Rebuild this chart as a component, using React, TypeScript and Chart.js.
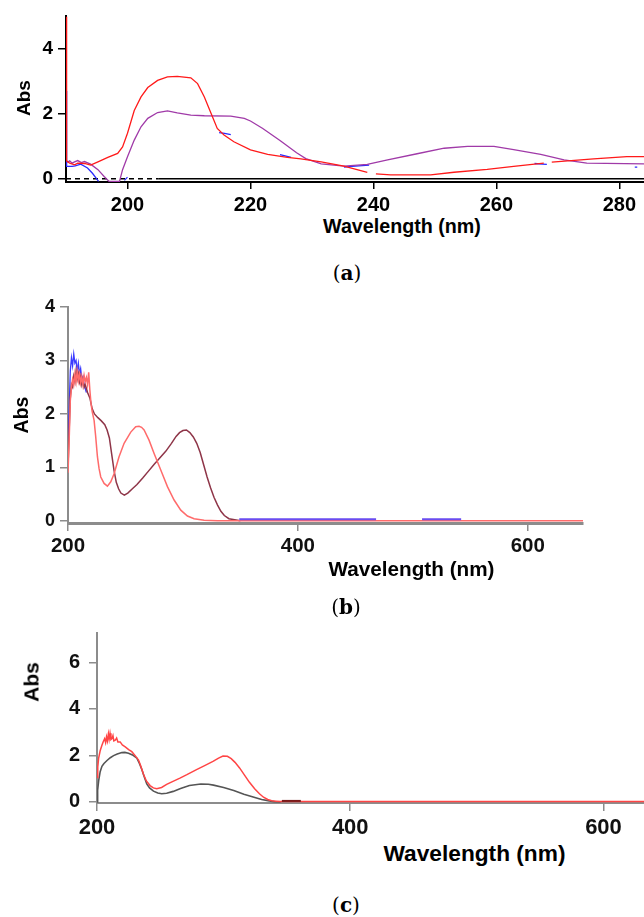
import React, { useEffect, useRef } from "react";
import { Chart, registerables } from "chart.js";

Chart.register(...registerables);

const SANS = "'Liberation Sans', Arial, Helvetica, sans-serif";
const SERIF = "'DejaVu Serif', 'Liberation Serif', serif";

type Pair = [number, number | null];

// ---------------- Panel (a): 190-284 nm ----------------
const aXTicks = [200, 220, 240, 260, 280];
const aYTicks = [0, 2, 4];

const aRed: Pair[] = [
  [190.0, 5.0], [190.1, 0.55], [190.6, 0.48], [191.4, 0.43], [191.9, 0.48], [193.0, 0.47],
  [194.0, 0.42], [195.2, 0.52], [196.8, 0.66], [198.4, 0.78], [199.2, 0.98], [200.0, 1.4],
  [201.1, 2.1], [202.2, 2.52], [203.3, 2.81], [204.9, 3.03], [206.5, 3.14], [208.1, 3.15],
  [210.3, 3.11], [211.4, 2.93], [212.5, 2.52], [213.6, 2.01], [214.6, 1.55], [215.7, 1.35],
  [217.3, 1.14], [220.0, 0.89], [222.8, 0.75], [226.0, 0.66], [228.2, 0.61], [231.5, 0.52],
  [235.2, 0.39], [239.0, 0.2], [239.7, null], [240.4, 0.15], [242.8, 0.12], [249.3, 0.12],
  [253.1, 0.2], [258.5, 0.29], [262.8, 0.38], [267.7, 0.48], [268.3, null], [269.0, 0.51],
  [275.8, 0.61], [281.2, 0.68], [284.0, 0.68],
];

const aPurple: Pair[] = [
  [190.2, 0.5], [190.6, 0.55], [191.0, 0.48], [191.4, 0.52], [191.9, 0.56], [192.5, 0.5],
  [193.0, 0.53], [194.0, 0.45], [195.2, 0.28], [196.2, 0.07], [197.0, -0.08], [198.7, -0.08],
  [199.2, 0.28], [200.0, 0.68], [201.1, 1.19], [202.2, 1.6], [203.3, 1.86], [204.9, 2.04],
  [206.5, 2.09], [208.1, 2.03], [210.3, 1.96], [212.5, 1.94], [216.8, 1.93], [219.0, 1.86],
  [220.0, 1.78], [222.0, 1.55], [224.8, 1.18], [227.5, 0.8], [229.0, 0.62], [231.5, 0.46],
  [235.2, 0.39], [239.0, 0.44], [242.3, 0.58], [247.1, 0.77], [251.5, 0.94], [255.3, 1.0],
  [259.6, 1.0], [262.8, 0.9], [267.2, 0.75], [271.0, 0.58], [274.7, 0.48], [284.0, 0.46],
];

const aBlue: Pair[] = [
  [190.0, 2.7], [190.1, 0.38], [191.0, 0.38], [191.5, 0.4], [192.4, 0.45], [193.5, 0.33],
  [194.3, 0.17], [194.9, 0.02], [195.3, -0.08], [197.0, null], [199.5, -0.05], [200.0, 0.05],
  [207.0, null], [214.9, 1.42], [215.8, 1.4], [216.8, 1.36], [220.0, null], [224.8, 0.74],
  [225.8, 0.7], [226.6, 0.66], [230.0, null], [235.2, 0.36], [236.5, 0.38], [239.3, 0.42],
  [250.0, null], [266.2, 0.47], [267.5, 0.45], [268.2, 0.44], [275.0, null], [282.5, 0.36],
  [282.9, 0.36],
];

const aBlack: Pair[] = [[190.0, 0], [205.0, 0], [284.0, 0]];

// ---------------- Panel (b): 200-648 nm ----------------
const bXTicks = [200, 400, 600];
const bYTicks = [0, 1, 2, 3, 4];

const bDark: Pair[] = [
  [200, 1.0], [201, 1.7], [202, 2.3], [203, 2.55], [204, 2.5], [205, 2.7], [206, 2.6],
  [207, 2.8], [208, 2.65], [209, 2.75], [210, 2.6], [211, 2.7], [212, 2.55], [213, 2.65],
  [214, 2.5], [215, 2.55], [217, 2.4], [219, 2.3], [221, 2.1], [223, 2.0], [226, 1.93],
  [229, 1.87], [232, 1.8], [234, 1.7], [236, 1.55], [238, 1.25], [240, 0.95], [242, 0.72],
  [244, 0.6], [246, 0.52], [249, 0.48], [252, 0.52], [256, 0.6], [260, 0.68], [265, 0.8],
  [270, 0.93], [275, 1.06], [280, 1.18], [285, 1.3], [290, 1.45], [294, 1.58], [297, 1.65],
  [300, 1.69], [303, 1.7], [306, 1.65], [309, 1.57], [312, 1.45], [315, 1.28], [318, 1.05],
  [321, 0.82], [324, 0.62], [327, 0.44], [330, 0.3], [333, 0.18], [336, 0.1], [340, 0.04],
  [345, 0.02], [350, 0.0],
];

const bRed: Pair[] = [
  [200, 0.9], [201, 1.5], [202, 2.25], [203, 2.5], [204, 2.65], [205, 2.55], [206, 2.75],
  [207, 2.6], [208, 2.8], [209, 2.62], [210, 2.75], [211, 2.58], [212, 2.7], [213, 2.55],
  [214, 2.72], [215, 2.6], [216, 2.68], [217, 2.55], [218, 2.78], [219, 2.45], [220, 2.2],
  [221, 2.05], [222.7, 1.88], [224, 1.6], [225.6, 1.2], [227, 0.98], [228.5, 0.82],
  [231.4, 0.7], [234.3, 0.65], [237.2, 0.73], [240.1, 0.88], [244.4, 1.2], [248.8, 1.45],
  [254.6, 1.66], [258.9, 1.76], [261.8, 1.77], [264, 1.75], [266.2, 1.7], [270.5, 1.51],
  [274.9, 1.26], [280.7, 0.95], [286.5, 0.64], [292.3, 0.39], [298.1, 0.2], [303.9, 0.09],
  [309.7, 0.04], [318.4, 0.01], [330, 0.0], [648, 0.0],
];

const bBluePeak: Pair[] = [
  [200, 1.3], [201, 2.1], [202, 2.8], [203, 3.05], [204, 2.9], [205, 3.12], [206, 2.95],
  [207, 3.0], [208, 2.8], [209, 2.95], [210, 2.75], [211, 2.85], [212, 2.65], [213, 2.7],
  [214, 2.55], [216, 2.4],
];

const bBlueBase: Pair[] = [
  [349, 0.03], [468, 0.03], [488, null], [508, 0.03], [542, 0.03],
];

// ---------------- Panel (c): 200-632 nm ----------------
const cXTicks = [200, 400, 600];
const cYTicks = [0, 2, 4, 6];

const cRed: Pair[] = [
  [200, 1.05], [200.6, 1.5], [201.3, 1.88], [202.5, 2.2], [203.9, 2.44], [205, 2.6],
  [206, 2.72], [206.8, 2.55], [207.5, 2.8], [208.2, 2.62], [209, 2.93], [209.6, 2.7],
  [210.3, 2.95], [211, 2.68], [211.8, 2.72], [212.6, 2.85], [213.3, 2.62], [214.4, 2.65],
  [215.5, 2.75], [216.5, 2.58], [218.3, 2.58], [220, 2.45], [222.3, 2.37], [225, 2.25],
  [227.5, 2.16], [230, 2.0], [232.8, 1.8], [234.5, 1.55], [236.7, 1.19], [239, 0.9],
  [241.9, 0.7], [244.5, 0.6], [247.2, 0.56], [251, 0.62], [255, 0.75], [260, 0.88],
  [265.5, 1.02], [271, 1.17], [278.6, 1.39], [285, 1.56], [291.6, 1.74], [296, 1.88],
  [299.5, 1.97], [303, 1.96], [306, 1.86], [309, 1.7], [312.6, 1.46], [316.5, 1.15],
  [320.4, 0.84], [324.5, 0.56], [328.3, 0.35], [331.5, 0.2], [334.8, 0.1], [338, 0.05],
  [341.4, 0.03], [345, 0.01], [632, 0.01],
];

const cGrey: Pair[] = [
  [200, 0.0], [200.5, 0.5], [201.3, 0.9], [202.5, 1.3], [203.9, 1.53], [205.5, 1.65],
  [207.9, 1.78], [210.5, 1.9], [213.1, 1.99], [216, 2.06], [219.6, 2.12], [222, 2.13],
  [224.9, 2.09], [228, 2.02], [231.5, 1.88], [233.5, 1.65], [235.4, 1.39], [237.5, 1.05],
  [239.3, 0.77], [241.5, 0.6], [244.6, 0.46], [248, 0.38], [251.1, 0.35], [255, 0.37],
  [260.2, 0.45], [266, 0.57], [273, 0.7], [282, 0.77], [288, 0.76], [292, 0.72], [300, 0.62],
  [308, 0.49], [316, 0.33], [324, 0.2], [330, 0.1], [336, 0.04], [340, 0.01], [345, 0.0],
];

const cDarkBase: Pair[] = [[346, 0.04], [361, 0.04]];

// ---------------- helpers ----------------
function series(pairs: Pair[], color: string, width: number, order: number, extra: any = {}) {
  return {
    data: pairs.map(([x, y]) => ({ x, y })),
    borderColor: color,
    backgroundColor: color,
    borderWidth: width,
    pointRadius: 0,
    fill: false,
    tension: 0,
    spanGaps: false,
    order,
    ...extra,
  };
}

function makeConfig(p: any): any {
  return {
    type: "line",
    data: { datasets: p.datasets },
    options: {
      animation: false,
      responsive: false,
      devicePixelRatio: 1,
      events: [],
      plugins: { legend: { display: false }, tooltip: { enabled: false }, title: { display: false } },
      layout: { padding: { top: p.padTop, right: p.padRight, left: 0, bottom: 0 } },
      scales: {
        x: {
          type: "linear",
          min: p.xMin,
          max: p.xMax,
          afterBuildTicks: (s: any) => {
            s.ticks = p.xTicks.map((v: number) => ({ value: v }));
          },
          afterFit: (s: any) => {
            s.height = p.xHeight;
          },
          grid: {
            drawOnChartArea: false,
            drawTicks: true,
            tickLength: p.xTickLen,
            color: p.axisColor,
            lineWidth: 1.5,
          },
          border: { display: true, color: p.axisColor, width: p.xBorder },
          ticks: {
            autoSkip: false,
            maxRotation: 0,
            minRotation: 0,
            padding: p.xPad,
            color: p.labelColor,
            font: { family: SANS, size: p.xFont, weight: "bold" },
          },
        },
        y: {
          type: "linear",
          min: p.yMin,
          max: p.yMax,
          afterBuildTicks: (s: any) => {
            s.ticks = p.yTicks.map((v: number) => ({ value: v }));
          },
          afterFit: (s: any) => {
            s.width = p.yWidth;
          },
          grid: {
            drawOnChartArea: false,
            drawTicks: true,
            tickLength: p.yTickLen,
            color: p.axisColor,
            lineWidth: 1.5,
          },
          border: { display: true, color: p.axisColor, width: p.yBorder },
          ticks: {
            padding: p.yPad,
            color: p.labelColor,
            font: { family: SANS, size: p.yFont, weight: "bold" },
          },
        },
      },
    },
  };
}

function ChartCanvas({ top, width, height, config }: any) {
  const ref = useRef<HTMLCanvasElement>(null);
  useEffect(() => {
    const chart = new Chart(ref.current as HTMLCanvasElement, config);
    return () => chart.destroy();
  }, []);
  return (
    <canvas
      ref={ref}
      width={width}
      height={height}
      style={{ position: "absolute", left: 0, top, width, height, display: "block" }}
    />
  );
}

function Label({ x, y, size, rotate, children }: any) {
  return (
    <div
      style={{
        position: "absolute",
        left: x,
        top: y,
        transform: `translate(-50%, -50%)${rotate ? " rotate(-90deg)" : ""}`,
        fontFamily: SANS,
        fontWeight: 700,
        fontSize: size,
        lineHeight: 1,
        whiteSpace: "nowrap",
        color: "#000",
      }}
    >
      {children}
    </div>
  );
}

function Caption({ x, y, letter }: any) {
  return (
    <div
      style={{
        position: "absolute",
        left: x,
        top: y,
        transform: "translate(-50%, -50%)",
        fontFamily: SERIF,
        fontSize: 20,
        lineHeight: 1,
        whiteSpace: "nowrap",
        color: "#000",
      }}
    >
      (<b>{letter}</b>)
    </div>
  );
}

const configA = makeConfig({
  datasets: [
    series(aBlack, "#000000", 1.5, 4, {
      segment: { borderDash: (ctx: any) => (ctx.p0.parsed.x < 204 ? [5, 4] : undefined) },
    }),
    series(aBlue, "#2a2aff", 1.3, 3),
    series(aPurple, "#a03aa8", 1.3, 2),
    series(aRed, "#ff1a1a", 1.3, 1),
  ],
  xMin: 190, xMax: 284, yMin: -0.1, yMax: 5,
  xTicks: aXTicks, yTicks: aYTicks,
  yWidth: 66, xHeight: 33, padTop: 16, padRight: 0,
  axisColor: "#000000", labelColor: "#000000",
  xBorder: 2, yBorder: 2, xTickLen: 7, yTickLen: 8, xPad: 4, yPad: 5,
  xFont: 20, yFont: 19,
});

const configB = makeConfig({
  datasets: [
    series(bBlueBase, "#6a4cf0", 2, 1),
    series(bRed, "#ff6b6b", 1.5, 2),
    series(bDark, "#8e3548", 1.5, 3),
    series(bBluePeak, "#3a3aff", 1.3, 4),
  ],
  xMin: 200, xMax: 648, yMin: -0.04, yMax: 4,
  xTicks: bXTicks, yTicks: bYTicks,
  yWidth: 68, xHeight: 35, padTop: 17, padRight: 61,
  axisColor: "#8c8c8c", labelColor: "#111111",
  xBorder: 3, yBorder: 2, xTickLen: 8, yTickLen: 8, xPad: 3, yPad: 5,
  xFont: 20.5, yFont: 18,
});

const configC = makeConfig({
  datasets: [
    series(cDarkBase, "#7a1a1a", 2, 1),
    series(cRed, "#ff4545", 1.5, 2),
    series(cGrey, "#555555", 1.6, 3),
  ],
  xMin: 200, xMax: 632, yMin: -0.05, yMax: 7.27,
  xTicks: cXTicks, yTicks: cYTicks,
  yWidth: 97, xHeight: 35, padTop: 16, padRight: 0,
  axisColor: "#8c8c8c", labelColor: "#111111",
  xBorder: 2, yBorder: 2, xTickLen: 8, yTickLen: 8, xPad: 4, yPad: 9,
  xFont: 22, yFont: 20,
});

export default function App() {
  return (
    <div
      style={{
        position: "absolute",
        left: 0,
        top: 0,
        width: 644,
        height: 917,
        overflow: "hidden",
        background: "#ffffff",
      }}
    >
      <ChartCanvas top={0} width={644} height={215} config={configA} />
      <ChartCanvas top={290} width={644} height={268} config={configB} />
      <ChartCanvas top={612} width={644} height={226} config={configC} />

      <Label x={22.5} y={97.5} size={19} rotate>Abs</Label>
      <Label x={402} y={227} size={19.7}>Wavelength (nm)</Label>
      <Caption x={347} y={273} letter="a" />

      <Label x={21.5} y={414.5} size={19.5} rotate>Abs</Label>
      <Label x={411.5} y={568.5} size={20.7}>Wavelength (nm)</Label>
      <Caption x={346} y={607} letter="b" />

      <Label x={31} y={682} size={21} rotate>Abs</Label>
      <Label x={474.5} y={852.5} size={22.7}>Wavelength (nm)</Label>
      <Caption x={346} y={905} letter="c" />
    </div>
  );
}
